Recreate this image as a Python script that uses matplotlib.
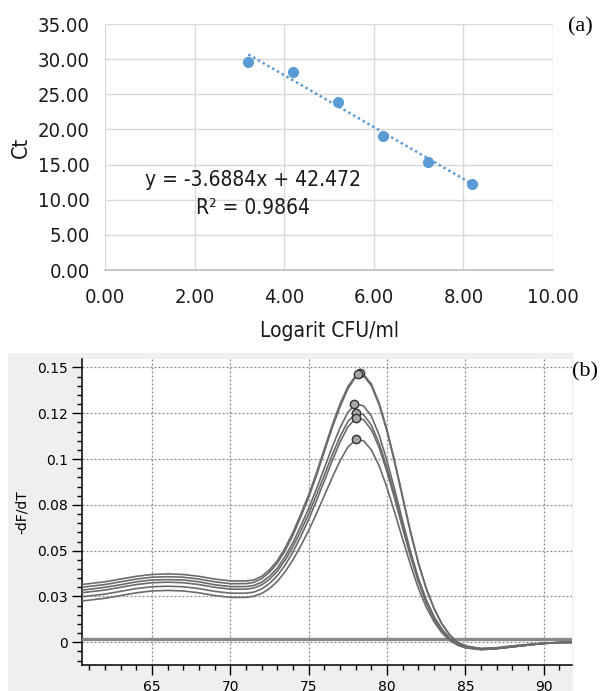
import matplotlib
matplotlib.use("Agg")
import matplotlib.pyplot as plt
from matplotlib.patches import Rectangle
from matplotlib.ticker import MultipleLocator

# ---------------- Data: panel (a) standard curve ----------------
log_cfu = [3.2, 4.2, 5.2, 6.2, 7.2, 8.2]
ct_vals = [29.6, 28.1, 23.9, 19.1, 15.4, 12.3]
slope = -3.6884
intercept = 42.472
r2 = 0.9864

# ---------------- Data: panel (b) melt curves ----------------
temps = [60.5, 62, 63, 64, 65, 66, 67, 68, 69, 70,
         71, 71.5, 72, 72.5, 73, 73.5, 74, 74.5, 75, 75.5, 76, 76.5, 77, 77.5,
         78, 78.5, 79, 79.5, 80, 80.5, 81, 81.5, 82, 82.5, 83, 83.5, 84, 84.5, 85,
         86, 87, 88, 89, 90, 91, 92]
curve_a = [0.0315, 0.033, 0.0345, 0.036, 0.037, 0.0373, 0.037, 0.036, 0.0345, 0.0335,
           0.0335, 0.0340, 0.0360, 0.0395, 0.0445, 0.0515, 0.0600, 0.0700, 0.0805, 0.0925,
           0.1055, 0.1185, 0.1300, 0.1395, 0.1455, 0.1462, 0.1410, 0.1305, 0.1160, 0.0985,
           0.0795, 0.0605, 0.0435, 0.0295, 0.0185, 0.0100, 0.0040, 0.0000, -0.0020,
           -0.0035, -0.0033, -0.0025, -0.0015, -0.0007, -0.0002, 0.0]
curve_b = [0.030, 0.0315, 0.033, 0.0345, 0.0355, 0.0358, 0.0355, 0.0345, 0.033, 0.032,
           0.0320, 0.0327, 0.0347, 0.0382, 0.0432, 0.0500, 0.0585, 0.0685, 0.0790, 0.0910,
           0.1040, 0.1170, 0.1285, 0.1383, 0.1448, 0.1455, 0.1400, 0.1295, 0.1150, 0.0975,
           0.0785, 0.0598, 0.0430, 0.0292, 0.0183, 0.0100, 0.0040, 0.0000, -0.0020,
           -0.0035, -0.0033, -0.0025, -0.0015, -0.0007, -0.0002, 0.0]
curve_c = [0.0284, 0.030, 0.0314, 0.033, 0.034, 0.0342, 0.034, 0.033, 0.0314, 0.0304,
           0.0304, 0.0310, 0.0328, 0.0360, 0.0405, 0.0468, 0.0545, 0.0635, 0.0730, 0.0838,
           0.0950, 0.1065, 0.1170, 0.1255, 0.1300, 0.1290, 0.1235, 0.1130, 0.0990, 0.0830,
           0.0660, 0.0495, 0.0350, 0.0232, 0.0140, 0.0072, 0.0022, -0.0010, -0.0025,
           -0.0035, -0.003, -0.002, -0.0012, -0.0005, -0.0001, 0.0]
curve_d = [0.027, 0.0285, 0.030, 0.0315, 0.0325, 0.0328, 0.0325, 0.0315, 0.030, 0.029,
           0.0290, 0.0296, 0.0313, 0.0344, 0.0388, 0.0448, 0.0522, 0.0608, 0.0700, 0.0805,
           0.0912, 0.1022, 0.1122, 0.1205, 0.1250, 0.1242, 0.1185, 0.1085, 0.0952, 0.0800,
           0.0638, 0.0480, 0.0340, 0.0225, 0.0135, 0.0068, 0.0020, -0.0010, -0.0025,
           -0.0035, -0.003, -0.002, -0.0012, -0.0005, -0.0001, 0.0]
curve_e = [0.0248, 0.0263, 0.0278, 0.0293, 0.0303, 0.0306, 0.0303, 0.0293, 0.0278, 0.0268,
           0.0268, 0.0274, 0.0291, 0.0321, 0.0363, 0.0421, 0.0493, 0.0578, 0.0670, 0.0773,
           0.0880, 0.0990, 0.1092, 0.1175, 0.1222, 0.1215, 0.1160, 0.1062, 0.0930, 0.0780,
           0.0620, 0.0467, 0.0330, 0.0216, 0.0127, 0.0062, 0.0015, -0.0015, -0.0030,
           -0.004, -0.0035, -0.0025, -0.0015, -0.0006, -0.0001, 0.0]
curve_f = [0.0225, 0.024, 0.0255, 0.027, 0.028, 0.0283, 0.028, 0.027, 0.0255, 0.0245,
           0.0245, 0.0251, 0.0266, 0.0293, 0.0332, 0.0385, 0.0450, 0.0527, 0.0610, 0.0703,
           0.0800, 0.0898, 0.0990, 0.1065, 0.1105, 0.1100, 0.1050, 0.0962, 0.0843, 0.0705,
           0.0562, 0.0422, 0.0295, 0.0192, 0.0112, 0.0052, 0.0010, -0.0015, -0.0030,
           -0.004, -0.0035, -0.0025, -0.0015, -0.0006, -0.0001, 0.0]
melt_curves = [curve_a, curve_b, curve_c, curve_d, curve_e, curve_f]

peak_temps = [78.25, 78.15, 77.9, 78.0, 78.05, 78.05]
peak_vals = [0.1467, 0.1462, 0.1303, 0.125, 0.1224, 0.1107]

ntc_temps = [60.5, 92.0]
ntc_vals = [0.0018, 0.0018]

b_yticks = [0, 0.025, 0.05, 0.075, 0.1, 0.125, 0.15]
b_yticklabels = ["0", "0.03", "0.05", "0.08", "0.1", "0.12", "0.15"]
b_xticks = [65, 70, 75, 80, 85, 90]

# ---------------- Figure ----------------
W, H = 606, 691
fig = plt.figure(figsize=(W / 100, H / 100), dpi=100)

def fx(px):
    return px / W

def fy(py):
    return 1 - py / H

# ---- Panel (a) ----
axa = fig.add_axes([fx(105), fy(270), fx(553 - 105), (270 - 24) / H])
grid_c = "#d9d9d9"
axa.set_xlim(0, 10)
axa.set_ylim(0, 35)
axa.set_xticks([0, 2, 4, 6, 8, 10])
axa.set_yticks([0, 5, 10, 15, 20, 25, 30, 35])
axa.set_xticklabels([f"{v:.2f}" for v in [0, 2, 4, 6, 8, 10]])
axa.set_yticklabels([f"{v:.2f}" for v in [0, 5, 10, 15, 20, 25, 30, 35]])
axa.grid(True, color=grid_c, lw=1.0)
axa.set_axisbelow(True)
for s in ["top", "right", "left"]:
    axa.spines[s].set_visible(False)
axa.spines["bottom"].set_color("#bfbfbf")
axa.spines["bottom"].set_linewidth(1.2)
for lab in axa.get_xticklabels() + axa.get_yticklabels():
    lab.set_fontstretch("condensed")
axa.tick_params(length=0, labelsize=14.5, colors="#1a1a1a")
axa.tick_params(axis="y", pad=11)
axa.tick_params(axis="x", pad=13)

fit_x = [min(log_cfu), max(log_cfu)]
fit_y = [slope * x + intercept for x in fit_x]
axa.plot(fit_x, fit_y, ls=(0, (1, 1.2)), color="#5b9bd5", lw=1.8, zorder=2)
axa.plot(log_cfu, ct_vals, "o", color="#5b9bd5", ms=7, zorder=3)
axa.text(3.31, 10.75, f"y = {slope}x + {intercept}\nR² = {r2}", ha="center", va="center",
         fontsize=15, fontstretch="condensed", color="#1a1a1a", linespacing=1.5)
axa.set_xlabel("Logarit CFU/ml", fontsize=15, fontstretch="condensed", color="#1a1a1a", labelpad=10)
axa.set_ylabel("Ct", fontsize=15.5, fontstretch="condensed", color="#1a1a1a", labelpad=5)

fig.text(fx(580), fy(27), "(a)", family="Liberation Serif", fontsize=16, ha="center", va="center")

# ---- Panel (b) ----
bg = Rectangle((fx(8), 0), fx(573 - 8), fy(353), transform=fig.transFigure,
               facecolor="#efefef", edgecolor="none", zorder=-10)
fig.add_artist(bg)
axb = fig.add_axes([fx(82), fy(665), fx(572 - 82), (665 - 359) / H])
axb.set_zorder(1)
axb.set_facecolor("white")
axb.set_xlim(60.54, 91.8)
axb.set_ylim(-0.0124, 0.1546)
axb.set_xticks(b_xticks)
axb.set_yticks(b_yticks)
axb.set_yticklabels(b_yticklabels)
axb.xaxis.set_minor_locator(MultipleLocator(1))
axb.yaxis.set_minor_locator(MultipleLocator(0.005))
axb.grid(True, which="major", color="#8c8c8c", ls=(0, (1.6, 1.6)), lw=0.9)
axb.set_axisbelow(True)
for s in ["top", "right"]:
    axb.spines[s].set_visible(False)
for s in ["left", "bottom"]:
    axb.spines[s].set_color("black")
    axb.spines[s].set_linewidth(1.1)
axb.tick_params(which="major", length=7, width=1, labelsize=10, colors="black", pad=3)
axb.tick_params(which="minor", length=3.5, width=1)
axb.tick_params(axis="x", which="major", pad=4)

axb.plot(ntc_temps, ntc_vals, color="#888888", lw=2.4, zorder=3)
for cv in melt_curves:
    axb.plot(temps, cv, color="#6b6b6b", lw=1.2, zorder=4, solid_joinstyle="round")
axb.plot(peak_temps, peak_vals, "o", ms=6, markerfacecolor="#a6a6a6",
         markeredgecolor="#333333", markeredgewidth=1.0, zorder=5, clip_on=False)
axb.set_ylabel("-dF/dT", fontsize=10, labelpad=6)

fig.text(fx(585), fy(372), "(b)", family="Liberation Serif", fontsize=16, ha="center", va="center")

fig.savefig("out.png", dpi=100)
